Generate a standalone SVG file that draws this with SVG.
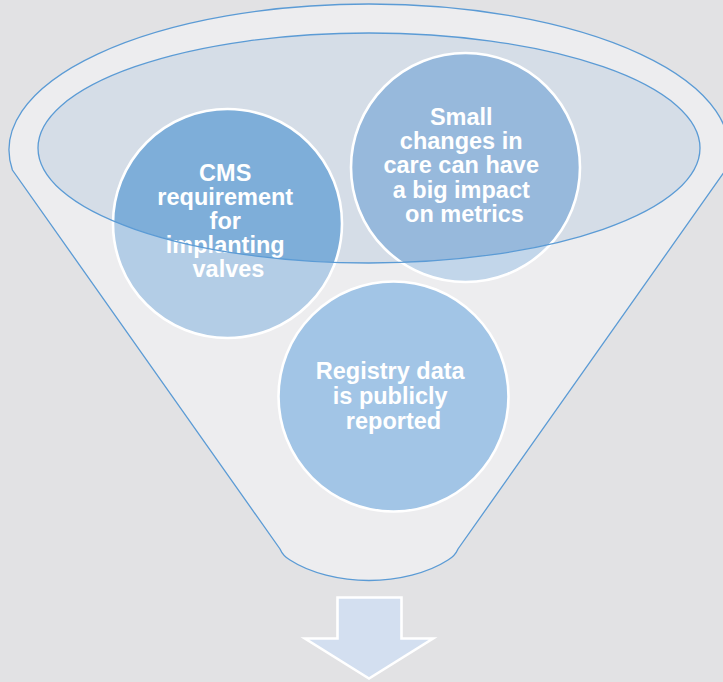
<svg xmlns="http://www.w3.org/2000/svg" width="723" height="682" viewBox="0 0 723 682">
  <style>
    .edge { fill: none; stroke: #5b9bd5; stroke-width: 1.3; }
    .ring { fill: none; stroke: #ffffff; stroke-width: 2.6; }
    .label { font-family: "Liberation Sans", Arial, sans-serif; font-weight: bold; font-size: 23.5px; fill: #ffffff; text-anchor: middle; }
  </style>
  <defs>
    <clipPath id="rim">
      <ellipse cx="369" cy="148" rx="331" ry="115"/>
    </clipPath>
  </defs>

  <rect width="723" height="682" fill="#e2e2e4"/>

  <!-- funnel body -->
  <g id="funnel">
    <path d="M 12.4 170 A 360 146 0 1 1 725.6 170 L 458 549 Q 455 556 448 560 C 428 573 398 580.5 369 580.5 C 340 580.5 310 573 290 560 Q 283 556 280 549 Z" fill="#ededef" stroke="#5b9bd5" stroke-width="1.3"/>
    <ellipse cx="369" cy="148" rx="331" ry="115" fill="#d5dde7"/>
  </g>

  <g id="node-cms">
    <circle cx="227.5" cy="223.5" r="114.5" fill="#b3cde6"/>
    <circle cx="227.5" cy="223.5" r="114.5" fill="#7eaed9" clip-path="url(#rim)"/>
    <circle class="ring" cx="227.5" cy="223.5" r="114.5"/>
    <text class="label">
      <tspan x="228.5" y="181">CMS</tspan>
      <tspan x="228.5" y="204.9">requirement</tspan>
      <tspan x="228.5" y="228.8">for</tspan>
      <tspan x="228.5" y="252.7">implanting</tspan>
      <tspan x="228.5" y="276.6">valves</tspan>
    </text>
  </g>

  <g id="node-small-changes">
    <circle cx="465.5" cy="167.5" r="114.5" fill="#c2d6ea"/>
    <circle cx="465.5" cy="167.5" r="114.5" fill="#97b9dc" clip-path="url(#rim)"/>
    <circle class="ring" cx="465.5" cy="167.5" r="114.5"/>
    <text class="label">
      <tspan x="464.5" y="125">Small</tspan>
      <tspan x="464.5" y="149.2">changes in</tspan>
      <tspan x="464.5" y="173.4">care can have</tspan>
      <tspan x="464.5" y="197.6">a big impact</tspan>
      <tspan x="464.5" y="221.8">on metrics</tspan>
    </text>
  </g>

  <g id="node-registry">
    <circle cx="393.5" cy="396.5" r="115" fill="#a2c5e6"/>
    <circle class="ring" cx="393.5" cy="396.5" r="115"/>
    <text class="label">
      <tspan x="393.5" y="379">Registry data</tspan>
      <tspan x="393.5" y="404">is publicly</tspan>
      <tspan x="393.5" y="429">reported</tspan>
    </text>
  </g>

  <!-- rim outline over the nodes -->
  <g id="funnel-rim">
    <ellipse class="edge" cx="369" cy="148" rx="331" ry="115"/>
  </g>

  <g id="arrow">
    <path d="M 337.5 597.5 L 401.5 597.5 L 401.5 638.5 L 433 638.5 L 369 678.5 L 305 638.5 L 337.5 638.5 Z" fill="#d3dff0" stroke="#ffffff" stroke-width="2.6" stroke-linejoin="miter"/>
  </g>
</svg>
